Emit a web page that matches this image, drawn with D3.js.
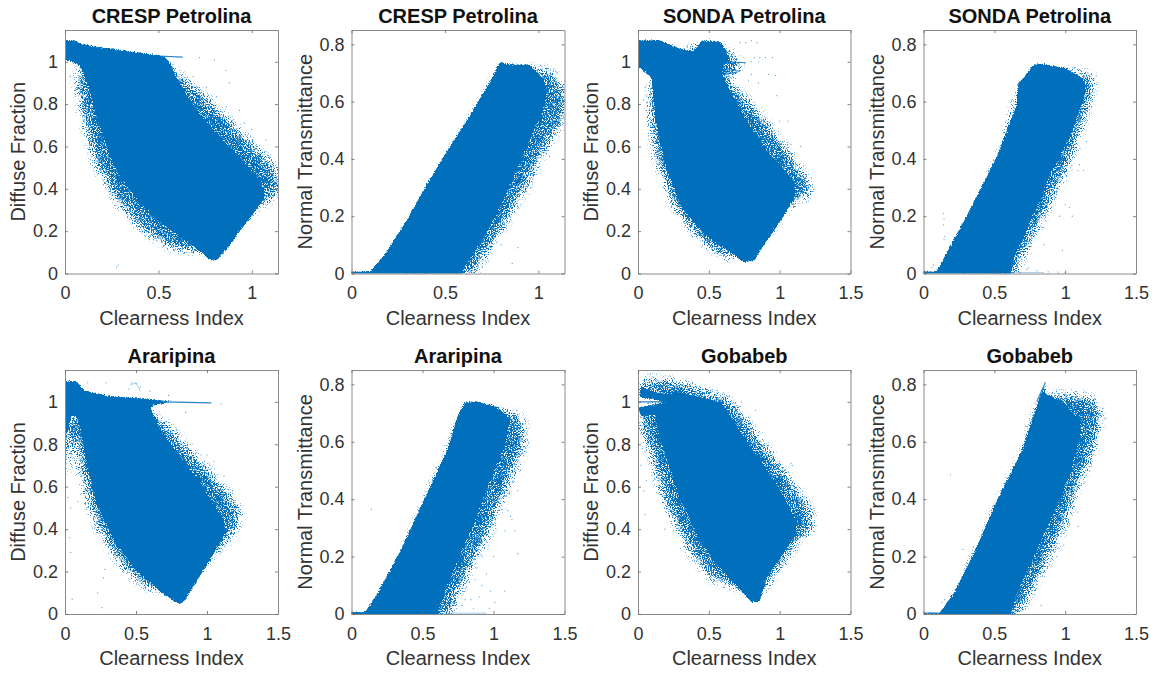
<!DOCTYPE html>
<html><head><meta charset="utf-8">
<script src="https://cdnjs.cloudflare.com/ajax/libs/d3/7.8.5/d3.min.js"></script>
<style>html,body{margin:0;padding:0;background:#fff}svg{display:block}text{font-family:"Liberation Sans",Arial,sans-serif}</style>
</head><body><svg id="c" width="1155" height="673"></svg>
<script>
// Values. Each scatter cloud is described by its dense outline, its sparse outline, and loose points.
const titles=["CRESP Petrolina","CRESP Petrolina","SONDA Petrolina","SONDA Petrolina","Araripina","Araripina","Gobabeb","Gobabeb"];
const yNames=["Diffuse Fraction","Normal Transmittance"];
const xLabel="Clearness Index";
const xMaxes=[1.14,1.14,1.5,1.5,1.5,1.5,1.5,1.5];
const xTicksShort=[0,0.5,1];
const xTicksLong=[0,0.5,1,1.5];
const dfTicks=[0,0.2,0.4,0.6,0.8,1];
const ntTicks=[0,0.2,0.4,0.6,0.8];
const dfMax=1.15, ntMax=0.85;

const core1=[[-.02,1.10],[.053,1.102],[.089,1.083],[.187,1.068],[.365,1.047],[.525,1.027],[.552,1.008],[.614,.898],[.72,.756],[.863,.614],[.97,.52],[1.05,.425],[1.076,.362],[1.023,.30],[.952,.22],[.881,.134],[.813,.063],[.783,.063],[.703,.118],[.56,.205],[.436,.30],[.329,.41],[.24,.55],[.169,.74],[.116,.90],[.08,.984],[.036,1.0],[-.02,1.016]];
const fringe1=[[.1,1.05],[.52,1.0],[.70,.88],[.84,.76],[1.02,.6],[1.14,.49],[1.16,.38],[1.04,.32],[.9,.2],[.8,.1],[.59,.11],[.43,.19],[.29,.32],[.165,.5],[.09,.74],[.055,.92],[.1,1.0]];
const spikes1=[[[.5,1.027],[.63,1.022]]];
const stray1=[[.285,.04],[.276,.03],[.027,.93],[.72,1.02],[.80,1.008],[.863,.96],[.756,.88],[.88,.9],[.934,.77],[.96,.71],[.863,.787],[1.076,.63],[1.094,.55],[1.103,.472],[.81,.835],[.685,.93],[.116,.80],[.133,.69],[.24,.41],[.49,.157],[1.0,.68],[.98,.66],[1.12,.43],[.75,.82]];

const core2=[[-.02,.006],[.10,.006],[.189,.076],[.296,.186],[.385,.291],[.492,.407],[.617,.535],[.742,.669],[.795,.739],[.83,.731],[.955,.728],[1.027,.681],[1.053,.64],[1.027,.57],[.955,.466],[.849,.303],[.724,.14],[.617,.035],[.581,-.02],[-.02,-.02]];
const fringe2=[[.2,.03],[.492,.38],[.795,.71],[.955,.72],[1.06,.71],[1.14,.66],[1.15,.55],[1.06,.46],[.935,.3],[.79,.135],[.665,.01],[.64,-.01],[.2,-.01]];
const spikes2=[[[0,.004],[.15,.004]]];
const stray2=[[.75,.09],[.89,.09],[.8,.1],[.72,.04],[.86,.035],[.99,.36],[.97,.33],[.93,.26],[.9,.26],[.84,.2],[.85,.23],[.96,.3],[1.06,.41],[1.11,.48],[1.13,.56],[1.14,.64],[1.1,.7],[1.08,.71],[.66,.02],[.7,.02],[.82,.17],[.76,.12]];

const core3=[[-.02,1.102],[.153,1.102],[.295,1.063],[.389,1.047],[.448,1.099],[.578,1.094],[.625,1.055],[.649,1.0],[.6,.985],[.60,.937],[.649,.866],[.767,.724],[.908,.583],[1.097,.441],[1.12,.378],[1.026,.268],[.92,.165],[.855,.1],[.821,.06],[.743,.055],[.649,.102],[.483,.173],[.318,.30],[.20,.488],[.118,.74],[.094,.929],[.012,.969],[-.02,.976]];
const fringe3=[[.3,1.04],[.44,1.09],[.58,1.09],[.66,1.03],[.76,1.0],[.68,.95],[.625,.921],[.83,.78],[1.02,.62],[1.23,.41],[1.2,.36],[1.07,.32],[.9,.18],[.8,.1],[.61,.07],[.42,.165],[.255,.31],[.125,.535],[.08,.74],[.09,.9]];
const spikes3=[[[.62,1.0],[.76,.995]],[[.6,.965],[.72,.955]],[[.6,.94],[.7,.95]]];
const stray3=[[.72,1.09],[.76,1.09],[.8,1.1],[.84,1.09],[.82,1.02],[.86,1.02],[.9,1.02],[.95,1.02],[.8,1.0],[.85,1.0],[.8,.94],[.92,.94],[.97,.935],[.78,.91],[.85,.9],[.98,.84],[.9,.73],[1.0,.72],[1.06,.72],[.95,.67],[1.0,.61],[1.15,.6],[1.08,.61],[1.2,.4],[1.22,.39],[.05,.88],[.04,.82],[.13,.6],[.16,.55]];

const core4=[[-.02,.006],[.092,.006],[.174,.081],[.339,.233],[.527,.419],[.656,.588],[.668,.664],[.715,.687],[.774,.728],[.809,.733],[.997,.718],[1.091,.693],[1.15,.664],[1.138,.617],[1.044,.489],[.903,.349],[.762,.186],[.644,.058],[.609,-.02],[-.02,-.02]];
const fringe4=[[.2,.03],[.527,.39],[.66,.62],[.8,.71],[.997,.71],[1.22,.69],[1.175,.6],[1.06,.42],[.915,.26],[.745,.1],[.66,.015],[.65,-.01],[.2,-.01]];
const spikes4=[[[0,.004],[.1,.004]]];
const faint4=[[[.6,.003],[.85,.003]]];
const stray4=[[.14,.21],[.145,.19],[.14,.17],[.15,.13],[.145,.12],[.06,.02],[.07,.03],[.74,.02],[.73,.015],[.8,.01],[.88,.006],[.95,.005],[1.0,.004],[.98,.08],[1.05,.2],[1.03,.23],[1.0,.24],[.96,.2],[1.1,.38],[1.13,.36],[1.09,.36],[1.15,.46],[1.2,.68],[1.22,.69],[1.16,.7],[1.07,.72],[.85,.1],[.78,.15]];

const core5=[[-.02,1.097],[.082,1.097],[.129,1.055],[.293,1.028],[.48,1.019],[.668,1.008],[.78,1.0],[.644,.987],[.598,.976],[.668,.875],[.785,.765],[.949,.624],[1.113,.451],[1.137,.389],[1.043,.279],[.926,.154],[.832,.052],[.785,.052],[.668,.107],[.504,.201],[.363,.326],[.223,.514],[.141,.734],[.094,.922],[.047,.937],[.023,.859],[-.02,.828]];
const fringe5=[[.2,1.0],[.6,.99],[.574,.961],[.70,.91],[.94,.73],[1.15,.57],[1.25,.47],[1.18,.37],[1.03,.27],[.9,.16],[.8,.1],[.56,.125],[.395,.225],[.255,.37],[.15,.545],[.09,.72],[.09,.85],[.05,.8],[.02,.7],[-.01,.62],[-.01,.9]];
const spikes5=[[[.7,1.0],[1.03,.995]]];
const faint5=[[[.46,1.08],[.5,1.09],[.53,1.05]]];
const stray5=[[.47,1.09],[.5,1.085],[.53,1.07],[.45,1.06],[.6,1.05],[.16,1.09],[.29,1.09],[.73,1.03],[.85,.95],[1.1,.99],[1.0,.75],[1.05,.72],[1.12,.65],[1.18,.58],[1.2,.5],[1.23,.47],[.02,.55],[.04,.5],[.09,.53],[.03,.36],[.04,.29],[.28,.21],[.27,.17],[.23,.1],[.26,.03],[.05,.07],[.02,.2]];

const core6=[[-.02,.005],[.096,.005],[.178,.067],[.342,.218],[.506,.392],[.67,.566],[.752,.694],[.799,.738],[.881,.74],[1.022,.723],[1.116,.682],[1.092,.601],[.998,.485],[.858,.311],[.717,.148],[.623,.032],[.612,-.02],[-.02,-.02]];
const fringe6=[[.2,.03],[.5,.37],[.7,.6],[.8,.72],[1.069,.71],[1.21,.69],[1.22,.58],[1.1,.44],[.96,.27],[.82,.14],[.72,.03],[.7,-.01],[.2,-.01]];
const spikes6=[[[0,.004],[.1,.004]]];
const faint6=[[[.6,.003],[.95,.003]]];
const stray6=[[.14,.365],[1.1,.36],[1.12,.34],[1.13,.33],[1.08,.29],[1.15,.29],[1.17,.21],[.98,.27],[1.0,.2],[1.08,.08],[.98,.08],[.95,.14],[.92,.1],[.87,.12],[.8,.08],[.84,.05],[.75,.06],[.72,.03],[1.01,.04],[.97,.02],[.78,.03],[.8,.05],[.86,.02],[.9,.06],[.83,.11],[.78,.09],[.88,.16],[.92,.2],[.9,.24],[1.2,.62],[1.22,.6],[1.19,.5],[1.1,.42],[1.17,.43],[1.22,.68]];

const core7=[[.017,1.078],[.059,1.063],[.153,1.039],[.295,1.047],[.531,1.008],[.601,.992],[.696,.89],[.837,.749],[1.002,.592],[1.12,.436],[1.12,.373],[1.002,.263],[.908,.169],[.856,.056],[.802,.056],[.696,.13],[.531,.248],[.389,.404],[.248,.624],[.153,.828],[.118,.945],[.059,.929],[.012,.937],[.007,.977],[.11,.985],[.2,.998],[.11,1.013],[.012,1.019]];
const fringe7=[[.02,1.11],[.13,1.11],[.295,1.095],[.531,1.04],[.66,1.01],[.78,.9],[.99,.71],[1.23,.49],[1.23,.4],[1.11,.32],[.965,.18],[.87,.09],[.8,.1],[.52,.16],[.355,.3],[.165,.555],[.095,.745],[.04,.85],[.01,.88],[.01,.96],[.12,.975],[.2,.998],[.12,1.025],[.01,1.04]];
const spikes7=[[[0,1],[.18,1]]];
const stray7=[[.02,.85],[.03,.78],[.02,.7],[.06,.63],[.11,.63],[.04,.58],[.05,.47],[.19,.4],[.3,.31],[.73,1.0],[.83,.96],[1.09,.7],[1.08,.71],[1.0,.72],[.87,.79],[1.2,.5],[1.23,.43],[1.17,.49],[1.12,.55],[.35,1.06],[.4,1.07],[.11,1.1],[.3,1.1]];

const core8=[[-.02,.003],[.115,.003],[.221,.079],[.362,.218],[.527,.404],[.692,.566],[.809,.74],[.861,.807],[.856,.769],[.904,.757],[.998,.734],[1.092,.682],[1.115,.636],[1.045,.496],[.927,.357],[.786,.206],[.668,.079],[.609,-.02],[-.02,-.02]];
const fringe8=[[.2,.03],[.527,.39],[.692,.55],[.8,.72],[.86,.76],[.974,.77],[1.2,.755],[1.26,.7],[1.225,.6],[1.105,.455],[.965,.27],[.82,.13],[.725,.04],[.645,-.01],[.2,-.01]];
const spikes8=[[[0,.003],[.12,.003]],[[.8,.74],[.861,.807]]];
const stray8=[[.19,.485],[.28,.225],[1.09,.355],[1.09,.305],[1.0,.38],[1.05,.42],[.83,.03],[.7,.02],[.99,.24],[.94,.2],[1.2,.61],[1.22,.7],[1.24,.69],[1.21,.75],[1.09,.75],[1.0,.77],[.15,.05],[.13,.04]];

const cores=[core1,core2,core3,core4,core5,core6,core7,core8];
const fringes=[fringe1,fringe2,fringe3,fringe4,fringe5,fringe6,fringe7,fringe8];
const strays=[stray1,stray2,stray3,stray4,stray5,stray6,stray7,stray8];
const spikes=[spikes1,spikes2,spikes3,spikes4,spikes5,spikes6,spikes7,spikes8];
const faints=[[],[],[],faint4,faint5,faint6,[],[]];

// layout (pixels), kept apart from the data
const colX=[[65,278],[351.5,564.5],[638,850.5],[923.5,1136]];
const rowY=[[30,273.5],[370,614]];
const yLabelX=[18,305,591,877];
const blue="#0070BD", ink="#333";

const svg=d3.select("#c");
const defs=svg.append("defs");
function grain(id,std,offset,slope,contrast,soft){
  const f=defs.append("filter").attr("id",id).attr("filterUnits","userSpaceOnUse").attr("x",0).attr("y",0).attr("width",1155).attr("height",673).attr("color-interpolation-filters","sRGB");
  f.append("feGaussianBlur").attr("in","SourceAlpha").attr("stdDeviation",std).attr("result","b");
  f.append("feTurbulence").attr("type","fractalNoise").attr("baseFrequency",.95).attr("numOctaves",2).attr("seed",4).attr("result","t");
  f.append("feColorMatrix").attr("in","t").attr("type","matrix").attr("values",`0 0 0 0 0 0 0 0 0 0 0 0 0 0 0 ${contrast} 0 0 0 ${.5-contrast/2}`).attr("result","n");
  f.append("feComposite").attr("in","b").attr("in2","n").attr("operator","arithmetic").attr("k1",0).attr("k2",1).attr("k3",1).attr("k4",offset).attr("result","s");
  const c=f.append("feComponentTransfer").attr("in","s").attr("result","m");
  c.append("feFuncA").attr("type","linear").attr("slope",slope);
  f.append("feFlood").attr("flood-color",blue).attr("result","fl");
  f.append("feComposite").attr("in","fl").attr("in2","m").attr("operator","in").attr("result","out");
  f.append("feGaussianBlur").attr("in","out").attr("stdDeviation",soft);
}
grain("grainCore",1.4,-.92,8,1,.35);
grain("grainFringe",6,-1.08,3,2.6,.5);

titles.forEach((title,i)=>{
  const col=i%4,row=i<4?0:1,isDf=i%2===0;
  const [x0,x1]=colX[col],[y0,y1]=rowY[row];
  const x=d3.scaleLinear().domain([0,xMaxes[i]]).range([x0,x1]);
  const y=d3.scaleLinear().domain([0,isDf?dfMax:ntMax]).range([y1,y0]);
  const line=d3.line().x(d=>x(d[0])).y(d=>y(d[1]));
  const xTicks=xMaxes[i]<1.5?xTicksShort:xTicksLong;
  const yTicks=isDf?dfTicks:ntTicks;
  const g=svg.append("g");
  defs.append("clipPath").attr("id","cp"+i).append("rect").attr("x",x0).attr("y",y0).attr("width",x1-x0).attr("height",y1-y0);
  const plot=g.append("g").attr("clip-path",`url(#cp${i})`);
  plot.append("path").attr("d",line(fringes[i])+"Z").attr("fill","#000").attr("filter","url(#grainFringe)");
  plot.append("path").attr("d",line(cores[i])+"Z").attr("fill","#000").attr("filter","url(#grainCore)");
  spikes[i].forEach(l=>plot.append("path").attr("d",line(l)).attr("fill","none").attr("stroke",blue).attr("stroke-width",1.1).attr("opacity",.85));
  faints[i].forEach(l=>plot.append("path").attr("d",line(l)).attr("fill","none").attr("stroke",blue).attr("stroke-width",.8).attr("opacity",.45));
  plot.selectAll("circle").data(strays[i]).join("circle").attr("cx",d=>x(d[0])).attr("cy",d=>y(d[1])).attr("r",.6).attr("fill",blue).attr("opacity",.7);

  const style=(a)=>{a.select(".domain").attr("stroke","#8a8a8a").attr("stroke-width",1);
    a.selectAll(".tick line").attr("stroke","#666").attr("stroke-width",.8);
    a.selectAll("text").attr("fill",ink).style("font-size","18px").attr("font-family",null);};
  g.append("g").attr("transform",`translate(0,${y1})`).call(d3.axisBottom(x).tickValues(xTicks).tickFormat(d=>d).tickSizeInner(-3).tickSizeOuter(0).tickPadding(13)).call(style);
  g.append("g").attr("transform",`translate(${x0},0)`).call(d3.axisLeft(y).tickValues(yTicks).tickFormat(d=>d).tickSizeInner(-3).tickSizeOuter(0).tickPadding(7)).call(style);
  g.append("g").attr("transform",`translate(0,${y0})`).call(d3.axisTop(x).tickValues(xTicks).tickFormat("").tickSizeInner(-3).tickSizeOuter(0)).call(style);
  g.append("g").attr("transform",`translate(${x1},0)`).call(d3.axisRight(y).tickValues(yTicks).tickFormat("").tickSizeInner(-3).tickSizeOuter(0)).call(style);

  g.append("text").attr("x",(x0+x1)/2).attr("y",y0-7.5).attr("text-anchor","middle").attr("fill","#111").attr("font-weight","bold").style("font-size","20px").text(title);
  g.append("text").attr("x",(x0+x1)/2).attr("y",y1+51).attr("text-anchor","middle").attr("fill",ink).style("font-size","20px").text(xLabel);
  g.append("text").attr("transform",`translate(${yLabelX[col]},${(y0+y1)/2}) rotate(-90)`).attr("dy","0.36em").attr("text-anchor","middle").attr("fill",ink).style("font-size","20px").text(yNames[isDf?0:1]);
});
</script></body></html>
